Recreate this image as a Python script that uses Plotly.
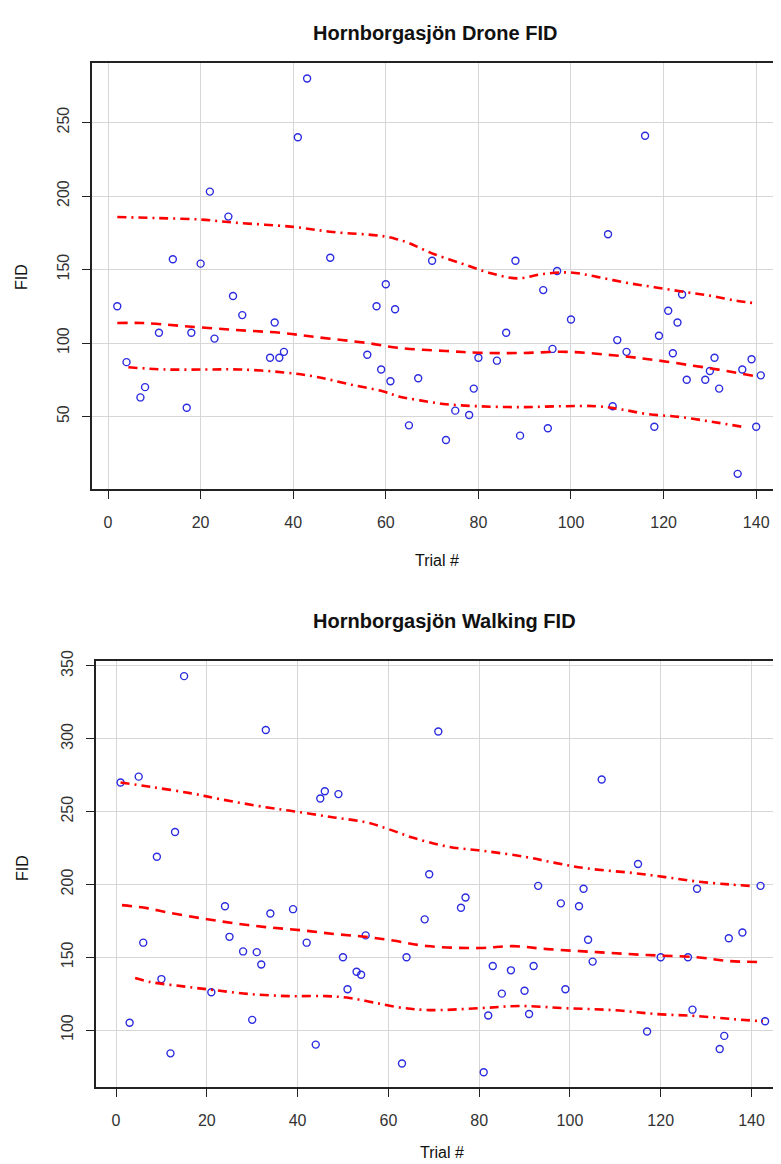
import plotly.graph_objects as go

# ---------------- Drone FID data ----------------
drone_trial = [2, 4, 7, 8, 11, 14, 17, 18, 20, 22, 23, 26, 27, 29, 35, 36, 37, 38,
               41, 43, 48, 56, 58, 59, 60, 61, 62, 65, 67, 70, 73, 75, 78, 79, 80,
               84, 86, 88, 89, 94, 95, 96, 97, 100, 108, 109, 110, 112, 116, 118,
               119, 121, 122, 123, 124, 125, 129, 130, 131, 132, 136, 137, 139, 140, 141]
drone_fid = [125, 87, 63, 70, 107, 157, 56, 107, 154, 203, 103, 186, 132, 119, 90, 114, 90, 94,
             240, 280, 158, 92, 125, 82, 140, 74, 123, 44, 76, 156, 34, 54, 51, 69, 90,
             88, 107, 156, 37, 136, 42, 96, 149, 116, 174, 57, 102, 94, 241, 43,
             105, 122, 93, 114, 133, 75, 75, 81, 90, 69, 11, 82, 89, 43, 78]

drone_up_x = [2, 10.6, 20, 27, 40, 48.6, 58.7, 62, 65, 70, 76.5, 82.5, 88.5, 94, 100, 105.6, 112, 118, 124.6, 130.4, 136, 140]
drone_up_y = [185.7, 185, 184, 182, 179, 175.5, 173, 171, 168, 161, 154, 147.6, 144, 147, 148, 145, 141, 138, 134.7, 132, 128.6, 127]
drone_mid_x = [2, 7.6, 16, 27, 37.8, 45, 56, 63, 73, 80, 89, 99, 109, 117.7, 126.4, 133.6, 140.5]
drone_mid_y = [113.6, 113.6, 111.6, 109, 106.8, 104, 100, 96.6, 94.6, 93.4, 93.2, 94, 91.7, 88.6, 84.6, 81, 77]
drone_lo_x = [4.4, 12.6, 21, 28.5, 38, 45, 52, 59.5, 63, 67.4, 73, 80, 89, 98, 105.6, 110.6, 116.4, 123.5, 130.7, 137]
drone_lo_y = [83.5, 82, 82, 82, 80, 77, 72, 67, 63.5, 61, 58.4, 57, 56.4, 57, 57, 55, 51.7, 49.7, 46.3, 43]

# ---------------- Walking FID data ----------------
walk_trial = [1, 3, 5, 6, 9, 10, 12, 13, 15, 21, 24, 25, 28, 30, 31, 32, 33, 34, 39, 42,
              44, 45, 46, 49, 50, 51, 53, 54, 55, 63, 64, 68, 69, 71, 76, 77, 81, 82, 83,
              85, 87, 90, 91, 92, 93, 98, 99, 102, 103, 104, 105, 107, 115, 117, 120,
              126, 127, 128, 133, 134, 135, 138, 142, 143]
walk_fid = [270, 105, 274, 160, 219, 135, 84, 236, 343, 126, 185, 164, 154, 107, 153.5, 145, 306, 180, 183, 160,
            90, 259, 264, 262, 150, 128, 140, 138, 165, 77, 150, 176, 207, 305, 184, 191, 71, 110, 144,
            125, 141, 127, 111, 144, 199, 187, 128, 185, 197, 162, 147, 272, 214, 99, 150,
            150, 114, 197, 87, 96, 163, 167, 199, 106]

walk_up_x = [1, 7.5, 16.3, 23, 33, 40.5, 48, 55, 60, 65.5, 73, 81.6, 90.5, 97, 103.7, 114, 121, 128, 135, 139.6]
walk_up_y = [270, 267, 262.7, 258.5, 253, 249.6, 246, 242.7, 238, 232, 226, 222.8, 218.7, 214.6, 211, 207.8, 205, 202, 200, 199]
walk_mid_x = [1.3, 6.8, 11, 18.5, 25.8, 33, 40.5, 48, 55, 61, 68.4, 80, 87.5, 95, 106, 117, 128, 135, 142.5]
walk_mid_y = [185.8, 183.7, 181, 176.9, 173.4, 170.7, 168.6, 166, 164, 161.5, 157.7, 156.3, 157.6, 155.6, 153.5, 151.5, 150, 147.4, 146.7]
walk_lo_x = [4.2, 7.5, 14.8, 21.4, 29.5, 38.3, 46.4, 51.5, 56.6, 62.5, 69, 80, 89, 99, 109.5, 119, 128, 136, 142.5]
walk_lo_y = [135.7, 133, 130, 127.5, 124.7, 123.3, 123.3, 122, 119, 115.5, 113.7, 115, 116.5, 115, 113.7, 111, 109.6, 107.5, 106]

x_ticks = [0, 20, 40, 60, 80, 100, 120, 140]
drone_y_ticks = [50, 100, 150, 200, 250]
walk_y_ticks = [100, 150, 200, 250, 300, 350]

# the page body adds an 8px margin; the figure fills the rest of the 781x1164 window
OFF = 8
W, H = 781 - OFF, 1164 - OFF
FONT = "Liberation Sans, Arial, sans-serif"
RED = "#FF0000"
BLUE = "#2B2BE0"
DASH = "10px,7px"
DOTDASH = "9px,5px,2px,5px"

fig = go.Figure()

def add_panel(xs, ys, up, mid, lo, xa, ya):
    fig.add_trace(go.Scatter(x=xs, y=ys, mode="markers", xaxis=xa, yaxis=ya,
                             marker=dict(symbol="circle-open", size=7, color=BLUE,
                                         line=dict(width=1.4, color=BLUE)),
                             showlegend=False, hoverinfo="x+y"))
    for (lx, ly), dash in zip([up, mid, lo], [DOTDASH, DASH, DOTDASH]):
        fig.add_trace(go.Scatter(x=lx, y=ly, mode="lines", xaxis=xa, yaxis=ya,
                                 line=dict(color=RED, width=2.6, dash=dash, shape="spline"),
                                 showlegend=False, hoverinfo="skip"))

add_panel(drone_trial, drone_fid, (drone_up_x, drone_up_y), (drone_mid_x, drone_mid_y),
          (drone_lo_x, drone_lo_y), "x", "y")
add_panel(walk_trial, walk_fid, (walk_up_x, walk_up_y), (walk_mid_x, walk_mid_y),
          (walk_lo_x, walk_lo_y), "x2", "y2")

def px_y(top, bottom):
    return [(H - (bottom - OFF)) / H, (H - (top - OFF)) / H]

def px_x(left):
    return [(left - OFF) / W, 1]

common_x = dict(tickvals=x_ticks, ticks="outside", ticklen=8, tickwidth=1.2, tickcolor="#222",
                showline=True, linecolor="#222", linewidth=1.5, mirror=True, automargin=False,
                showgrid=True, gridcolor="#D6D6D6", gridwidth=1.3, zeroline=False,
                tickfont=dict(family=FONT, size=16, color="#333"), ticklabelstandoff=10)
common_y = dict(ticks="outside", ticklen=8, tickwidth=1.2, tickcolor="#222",
                showline=True, linecolor="#222", linewidth=1.5, mirror=False, automargin=False,
                showgrid=True, gridcolor="#D6D6D6", gridwidth=1.3, zeroline=False,
                tickangle=-90, tickfont=dict(family=FONT, size=16, color="#333"),
                ticklabelstandoff=7)

fig.update_layout(
    width=W, height=H,
    margin=dict(l=0, r=0, t=0, b=0, autoexpand=False),
    paper_bgcolor="white", plot_bgcolor="white",
    xaxis=dict(domain=px_x(92), range=[-3.46, 145.36], anchor="y", **common_x),
    yaxis=dict(domain=px_y(63, 489), range=[0.7, 290.5], anchor="x",
               tickvals=drone_y_ticks, **common_y),
    xaxis2=dict(domain=px_x(96), range=[-4.41, 146.5], anchor="y2", **common_x),
    yaxis2=dict(domain=px_y(661, 1087), range=[60.9, 353.4], anchor="x2",
                tickvals=walk_y_ticks, **common_y),
)

def ann(text, x, y, size=16, bold=False, angle=0):
    fig.add_annotation(text=f"<b>{text}</b>" if bold else text,
                       x=(x - OFF) / W, y=(H - (y - OFF)) / H,
                       xref="paper", yref="paper", showarrow=False, textangle=angle,
                       xanchor="center", yanchor="middle",
                       font=dict(family=FONT, size=size, color="#111"))

ann("Hornborgasjön Drone FID", 435, 33, size=20, bold=True)
ann("Hornborgasjön Walking FID", 444, 621, size=20, bold=True)
ann("Trial #", 437, 560)
ann("Trial #", 442, 1152)
ann("FID", 22, 277, angle=-90)
ann("FID", 22, 868, angle=-90)

fig.write_html("out.html")
